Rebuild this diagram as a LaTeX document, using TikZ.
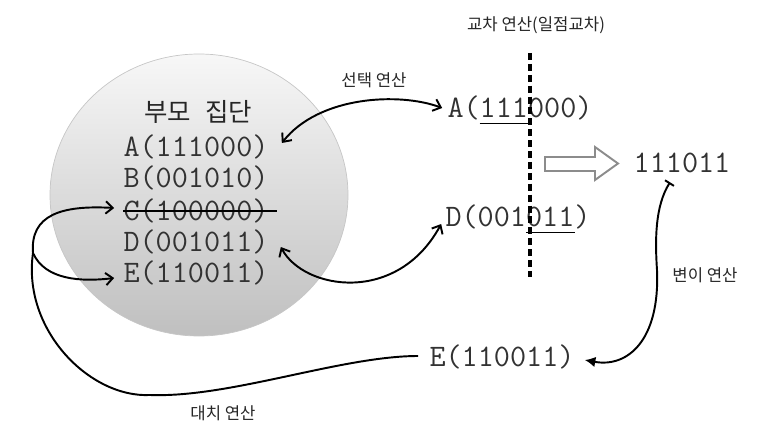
\documentclass[tikz,border=0pt]{standalone}
\usepackage{fontspec}
\newfontfamily\krfont{Noto Sans CJK KR}
\usetikzlibrary{arrows.meta,calc}
\definecolor{inkgray}{RGB}{50,50,50}
\definecolor{arrowgray}{RGB}{140,140,140}
\tikzset{
  gene/.style={inner sep=0pt, text=inkgray, font=\ttfamily\fontsize{17.8}{20}\selectfont},
  lbl/.style={inner sep=0pt, text=black!85, font=\krfont\fontsize{9.5}{11}\selectfont},
  arrow/.style={-{Straight Barb[length=4pt,width=7pt]}, line width=1.1pt},
  biarrow/.style={{Straight Barb[length=4pt,width=7pt]}-{Straight Barb[length=4pt,width=7pt]}, line width=1.1pt},
  cutline/.style={line width=2.2pt, dash pattern=on 4pt off 2.2pt}
}
\begin{document}
\begin{tikzpicture}[x=0.02cm, y=-0.02cm]
  \useasboundingbox (0,0) rectangle (764,439);
  % parent population
  \path[top color=gray!6, bottom color=gray!50, draw=gray!45, line width=0.4pt] (199,195) ellipse [x radius=149, y radius=141];
  \node[inner sep=0pt, text=black!85, font=\krfont\fontsize{14.5}{16}\selectfont] (title) at (198,112) {부모\hspace{0.55em}집단};
  \node[gene] (pA) at (196,147) {A(111000)};
  \node[gene] (pB) at (196,178) {B(001010)};
  \node[gene] (pC) at (196,211) {C(100000)};
  \node[gene] (pD) at (196,242) {D(001011)};
  \node[gene] (pE) at (196,273) {E(110011)};
  \draw[line width=0.8pt] (pC.west) -- ($(pC.east)+(8,0)$);
  % selected pair, crossover
  \node[gene] (cA) at (520,108) {A(111000)};
  \node[gene] (cD) at (518,217) {D(001011)};
  \node[gene] (child) at (682,163) {111011};
  \node[gene] (mE) at (502,357) {E(110011)};
  \draw[line width=0.8pt] ($(cA.south west)!2/9!(cA.south east)+(0,3)$) -- ($(cA.south west)!5/9!(cA.south east)+(0,3)$);
  \draw[line width=0.8pt] ($(cD.south west)!5/9!(cD.south east)+(0,3)$) -- ($(cD.south west)!8/9!(cD.south east)+(0,3)$);
  \coordinate (cutTop) at (530,53);
  \coordinate (cutBot) at (530,277);
  \draw[cutline] (cutTop) -- (cutBot);
  \draw[arrowgray, line width=1.1pt, fill=white] (545,157) -- (595,157) -- (595,147) -- (618,163.5) -- (595,180) -- (595,171) -- (545,171) -- cycle;
  % labels
  \node[lbl] (xlbl) at (536,25) {교차 연산(일점교차)};
  \node[lbl] (slbl) at (374,80) {선택 연산};
  \node[lbl] (mlbl) at (705,275) {변이 연산};
  \node[lbl] (rlbl) at (223,413) {대치 연산};
  % selection
  \draw[biarrow] ($(pA.east)+(13,-4)$) .. controls +(37,-47) and +(-43,-16) .. ($(cA.west)+(-5,0)$);
  \draw[biarrow] ($(pD.east)+(12,5)$) .. controls +(23,43) and +(-44,81) .. ($(cD.west)+(-4,7)$);
  % mutation
  \draw[line width=1.1pt, {Bar[width=6pt]}-{Latex[length=6pt,width=6pt]}] ($(child.south)+(-12,9)$) .. controls +(-15,24) and +(-2,-30) .. (657,270) .. controls +(3,70) and +(43,8) .. ($(mE.east)+(10,3)$);
  % replacement
  \coordinate (fork) at (33,253);
  \draw[line width=1.1pt] ($(mE.west)+(-11,-1)$) .. controls +(-77,0) and +(80,3) .. (150,395) .. controls +(-60,3) and +(-11,77) .. (fork);
  \draw[arrow] (fork) .. controls +(-3,-38) and +(-53,-3) .. ($(pC.west)+(-9,-3)$);
  \draw[arrow] (fork) .. controls +(12,27) and +(-33,4) .. ($(pE.west)+(-9,5)$);
\end{tikzpicture}
\end{document}
